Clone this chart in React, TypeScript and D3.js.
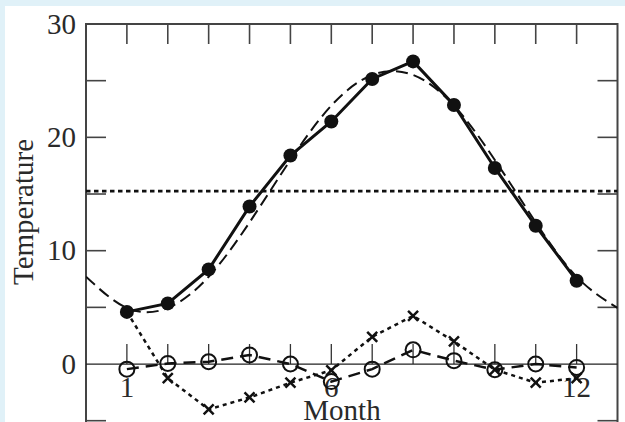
import React from 'react';
import * as d3 from 'd3';

// chart is drawn in page pixels, 625x422
const W = 625;
const H = 422;

const months = [1, 2, 3, 4, 5, 6, 7, 8, 9, 10, 11, 12];
// monthly mean temperature (filled dots)
const temperature = [4.6, 5.35, 8.35, 13.9, 18.4, 21.4, 25.15, 26.7, 22.85, 17.3, 12.2, 7.35];
// open circles
const residuals = [-0.45, 0.05, 0.2, 0.8, 0, -1.55, -0.45, 1.25, 0.3, -0.5, 0, -0.3];
// crosses
const crosses = [4.6, -1.25, -4.0, -2.95, -1.65, -0.55, 2.4, 4.25, 2.0, -0.5, -1.65, -1.25];
// dashed fitted curve, read at month 0..13
const fitMonths = [0, 1, 2, 3, 4, 5, 6, 7, 8, 9, 10, 11, 12, 13];
const fitValues = [7.7, 4.95, 4.95, 7.7, 12.5, 18.0, 22.8, 25.5, 25.5, 22.8, 18.0, 12.5, 7.7, 4.95];
const meanTemp = 15.25;

const yTickLabels = [0, 10, 20, 30];
const yTicks = [-5, 5, 10, 15, 20, 25];
const monthLabels = [1, 6, 12];

const FONT = '"Liberation Serif", "Times New Roman", serif';
const INK = '#2a2a2a';
const FS = 29;

export default function App() {
  const x = d3.scaleLinear().domain([0, 13]).range([86, 617.5]);
  const y = d3.scaleLinear().domain([-5, 30]).range([420.7, 24]);

  const line = d3.line<[number, number]>()
    .x(d => x(d[0]))
    .y(d => y(d[1]));
  const fitLine = d3.line<[number, number]>()
    .x(d => x(d[0]))
    .y(d => y(d[1]))
    .curve(d3.curveNatural);

  const zip = (a: number[], b: number[]) => a.map((v, i) => [v, b[i]] as [number, number]);

  const left = x(0);
  const right = x(13);
  const top = y(30);
  const tickLen = 20;

  return (
    <svg width={W} height={H} style={{ position: 'fixed', left: 0, top: 0, display: 'block' }}>
      <rect x={0} y={0} width={W} height={H} fill="#e0f1f8" />
      <rect x={5} y={6} width={W - 5} height={H - 6} fill="#fff" />

      <defs>
        <clipPath id="plot">
          <rect x={left} y={top} width={right - left} height={H - top + 10} />
        </clipPath>
      </defs>

      {/* frame */}
      <path d={`M${left},${H + 5}V${top}H${right}V${H + 5}`} fill="none" stroke="#444" strokeWidth={2} />

      {/* top month ticks */}
      {months.map(m => (
        <line key={`tt-${m}`} x1={x(m)} x2={x(m)} y1={top} y2={top + tickLen} stroke="#444" strokeWidth={1.6} />
      ))}
      {/* month ticks on zero line */}
      {months.map(m => (
        <line key={`zt-${m}`} x1={x(m)} x2={x(m)} y1={y(0)} y2={y(0) - tickLen} stroke="#333" strokeWidth={1.3} />
      ))}
      {/* left and right ticks */}
      {yTicks.map(v => (
        <g key={`yt-${v}`}>
          <line x1={left} x2={left + tickLen} y1={y(v)} y2={y(v)} stroke="#444" strokeWidth={1.6} />
          <line x1={right - tickLen} x2={right} y1={y(v)} y2={y(v)} stroke="#444" strokeWidth={1.6} />
        </g>
      ))}
      <line x1={left} x2={right} y1={y(0)} y2={y(0)} stroke="#222" strokeWidth={1.3} />

      {/* labels */}
      {yTickLabels.map(v => (
        <text key={`yl-${v}`} x={left - 10} y={y(v) + 9.5} textAnchor="end" fontFamily={FONT} fontSize={FS} fill={INK}>{v}</text>
      ))}
      {monthLabels.map(m => (
        <text key={`ml-${m}`} x={x(m)} y={397} textAnchor="middle" fontFamily={FONT} fontSize={FS} fill={INK}>{m}</text>
      ))}
      <text x={342} y={420} textAnchor="middle" fontFamily={FONT} fontSize={FS} fill={INK}>Month</text>
      <text transform={`translate(33,212) rotate(-90)`} textAnchor="middle" fontFamily={FONT} fontSize={FS} fill={INK}>Temperature</text>

      <g clipPath="url(#plot)">
        {/* mean line */}
        <line x1={left} x2={right} y1={y(meanTemp)} y2={y(meanTemp)} stroke="#111" strokeWidth={2.8} strokeDasharray="4.5,3.5" />
        {/* fitted curve */}
        <path d={fitLine(zip(fitMonths, fitValues)) || ''} fill="none" stroke="#111" strokeWidth={2} strokeDasharray="12,6" />
        {/* observed temperature */}
        <path d={line(zip(months, temperature)) || ''} fill="none" stroke="#111" strokeWidth={3} />
        {months.map((m, i) => (
          <circle key={`d-${m}`} cx={x(m)} cy={y(temperature[i])} r={7} fill="#111" />
        ))}
        {/* residuals */}
        <path d={line(zip(months, residuals)) || ''} fill="none" stroke="#111" strokeWidth={2.5} strokeDasharray="12,7" />
        {months.map((m, i) => (
          <circle key={`o-${m}`} cx={x(m)} cy={y(residuals[i])} r={7.5} fill="none" stroke="#111" strokeWidth={2} />
        ))}
        {/* crosses */}
        <path d={line(zip(months, crosses)) || ''} fill="none" stroke="#111" strokeWidth={2.5} strokeDasharray="4,4" />
        {months.slice(1).map((m, i) => {
          const cx = x(m);
          const cy = y(crosses[i + 1]);
          const s = 5;
          return (
            <path key={`x-${m}`} d={`M${cx - s},${cy - s}L${cx + s},${cy + s}M${cx - s},${cy + s}L${cx + s},${cy - s}`} stroke="#111" strokeWidth={2.5} />
          );
        })}
      </g>
    </svg>
  );
}
